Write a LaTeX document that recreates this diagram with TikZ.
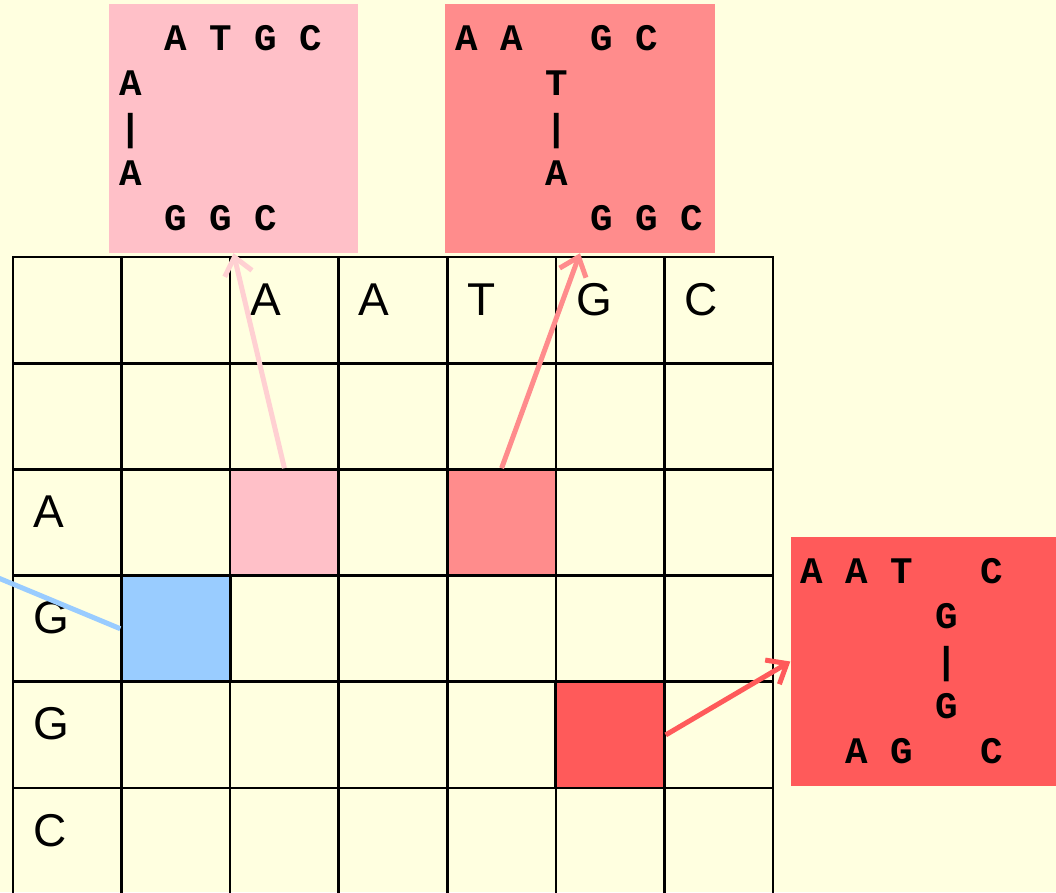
\documentclass[tikz,border=0pt]{standalone}
\usepackage{fontspec}
\setsansfont{Liberation Sans}
\setmonofont{Liberation Mono}
\usetikzlibrary{arrows.meta}
\definecolor{dpbg}{RGB}{255,255,224}
\definecolor{dppink}{RGB}{255,192,200}
\definecolor{dppinkarr}{RGB}{255,208,210}
\definecolor{dpsalmon}{RGB}{255,140,140}
\definecolor{dpred}{RGB}{255,90,90}
\definecolor{dpblue}{RGB}{153,204,255}
% one blank column of the monospaced alignment
\newcommand{\seqsp}{\hspace*{0.6em}}
\tikzset{
  gridln/.style={draw=black, line width=2.7pt, line cap=rect},
  cell/.style={
    draw=black, line width=2.7pt, inner sep=0pt,
    minimum width=108.57pt, minimum height=106.2pt
  },
  lbl/.style={anchor=base west, inner sep=0pt, font=\fontsize{46}{46}\selectfont\sffamily},
  aln/.style={
    anchor=center, align=left, inner xsep=10pt, inner ysep=0pt,
    minimum height=249pt, font=\fontsize{37.5}{45}\selectfont\ttfamily\bfseries
  },
  arr/.style={-{Straight Barb[length=17pt,width=28pt]}, line width=5pt},
  every picture/.append style={line join=round}
}
\begin{document}
\begin{tikzpicture}[x=1pt, y=-1pt]
  \useasboundingbox (0,0) rectangle (1056,892);
  \fill[dpbg] (0,0) rectangle (1056,892);
  \clip (0,0) rectangle (1056,892);
  % score matrix
  \foreach \i in {0,...,7}
    \draw[gridln] ({13+108.57*\i},257) -- ({13+108.57*\i},900);
  \foreach \j in {0,...,6}
    \draw[gridln] (13,{257+106.2*\j}) -- (773,{257+106.2*\j});
  \node[cell, fill=dppink] (pcell) at (284.4,522.6) {};
  \node[cell, fill=dpsalmon] (scell) at (501.6,522.6) {};
  \node[cell, fill=dpblue] (bcell) at (175.9,628.7) {};
  \node[cell, fill=dpred] (rcell) at (610.1,734.9) {};
  \foreach \l [count=\i from 2] in {A,A,T,G,C}
    \node[lbl] (top-\i) at ({13+108.57*\i+20},315) {\l};
  \foreach \l [count=\j from 2] in {A,G,G,C}
    \node[lbl] (side-\j) at (33,{257+106.2*\j+58}) {\l};
  % alignments
  \node[aln, fill=dppink, text width=229pt] (aln1) at (233.5,128.5)
    {\seqsp\seqsp A\seqsp T\seqsp G\seqsp C\\A\\|\\A\\\seqsp\seqsp G\seqsp G\seqsp C};
  \node[aln, fill=dpsalmon, text width=250pt] (aln2) at (580,128.5)
    {A\seqsp A\seqsp\seqsp\seqsp G\seqsp C\\
     \seqsp\seqsp\seqsp\seqsp T\\
     \seqsp\seqsp\seqsp\seqsp |\\
     \seqsp\seqsp\seqsp\seqsp A\\
     \seqsp\seqsp\seqsp\seqsp\seqsp\seqsp G\seqsp G\seqsp C};
  \node[aln, fill=dpred, text width=246pt] (aln3) at (923.5,661.5)
    {A\seqsp A\seqsp T\seqsp\seqsp\seqsp C\\
     \seqsp\seqsp\seqsp\seqsp\seqsp\seqsp G\\
     \seqsp\seqsp\seqsp\seqsp\seqsp\seqsp |\\
     \seqsp\seqsp\seqsp\seqsp\seqsp\seqsp G\\
     \seqsp\seqsp A\seqsp G\seqsp\seqsp\seqsp C};
  \draw[arr, draw=dppinkarr] (pcell.north) -- (aln1.south);
  \draw[arr, draw=dpsalmon] (scell.north) -- (aln2.south);
  \draw[arr, draw=dpred] (rcell.east) -- (aln3.west);
  \coordinate (offleft) at (-40,562);
  \draw[line width=5pt, draw=dpblue] (bcell.west) -- (offleft);
\end{tikzpicture}
\end{document}
